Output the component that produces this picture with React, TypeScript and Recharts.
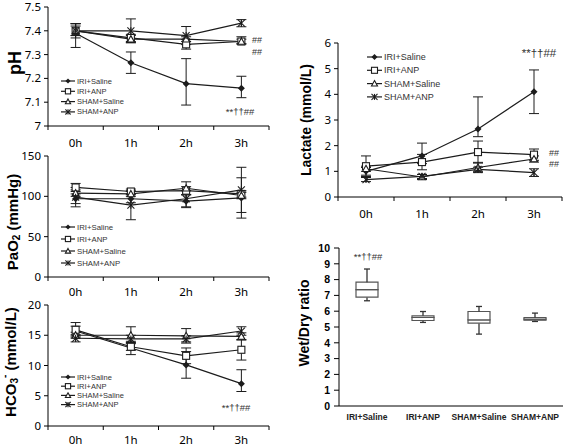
import React from "react";
import { Bar, BarChart, ErrorBar, Line, LineChart, XAxis, YAxis } from "recharts";

document.body.style.margin = "0";

const times = ["0h", "1h", "2h", "3h"];
const groups = ["IRI+Saline", "IRI+ANP", "SHAM+Saline", "SHAM+ANP"];

type Err = [number, number];

// pH
const phIriSaline = [7.39, 7.266, 7.178, 7.159];
const phIriAnp = [7.4, 7.37, 7.343, 7.355];
const phShamSaline = [7.4, 7.365, 7.365, 7.355];
const phShamAnp = [7.4, 7.4, 7.38, 7.432];
const phIriSalineErr: Err[] = [[0.06, 0.04], [0.045, 0.045], [0.09, 0.105], [0.04, 0.05]];
const phIriAnpErr: Err[] = [[0.03, 0.03], [0.015, 0.015], [0.02, 0.02], [0.01, 0.02]];
const phShamSalineErr: Err[] = [[0.02, 0.02], [0.015, 0.015], [0.01, 0.01], [0.01, 0.01]];
const phShamAnpErr: Err[] = [[0.02, 0.03], [0.05, 0.05], [0.038, 0.038], [0.015, 0.015]];
const phTicks = [7, 7.1, 7.2, 7.3, 7.4, 7.5];

// PaO2
const paIriSaline = [97, 97, 94, 98];
const paIriAnp = [111, 106, 107, 103];
const paShamSaline = [104, 103, 110, 101];
const paShamAnp = [99, 89, 97, 108];
const paIriSalineErr: Err[] = [[6, 6], [5, 5], [8, 8], [25, 25]];
const paIriAnpErr: Err[] = [[5, 5], [3, 3], [5, 5], [4, 4]];
const paShamSalineErr: Err[] = [[4, 4], [3, 3], [8, 8], [4, 4]];
const paShamAnpErr: Err[] = [[12, 12], [18, 18], [10, 10], [28, 28]];
const paTicks = [0, 50, 100, 150];

// HCO3-
const hcIriSaline = [15.7, 12.9, 10.1, 7.0];
const hcIriAnp = [15.9, 13.1, 11.6, 12.6];
const hcShamSaline = [15.0, 15.0, 14.9, 14.8];
const hcShamAnp = [14.5, 14.4, 14.4, 15.7];
const hcIriSalineErr: Err[] = [[0.8, 0.8], [1.1, 1.1], [2.2, 2.2], [1.3, 2.3]];
const hcIriAnpErr: Err[] = [[1.2, 1.2], [0.6, 0.6], [1.3, 1.3], [1.7, 1.7]];
const hcShamSalineErr: Err[] = [[0.5, 0.5], [1.4, 1.4], [1.2, 1.2], [0.6, 0.6]];
const hcShamAnpErr: Err[] = [[0.6, 0.6], [0.6, 0.6], [0.5, 0.5], [0.7, 0.7]];
const hcTicks = [0, 5, 10, 15, 20];

// Lactate
const laIriSaline = [1.0, 1.6, 2.65, 4.1];
const laIriAnp = [1.2, 1.36, 1.75, 1.65];
const laShamSaline = [1.1, 0.78, 1.15, 1.48];
const laShamAnp = [0.68, 0.8, 1.08, 0.95];
const laIriSalineErr: Err[] = [[0.15, 0.15], [0.3, 0.5], [0.3, 1.25], [0.85, 0.85]];
const laIriAnpErr: Err[] = [[0.4, 0.4], [0.3, 0.3], [0.43, 0.43], [0.22, 0.22]];
const laShamSalineErr: Err[] = [[0.1, 0.1], [0.1, 0.1], [0.2, 0.2], [0.12, 0.12]];
const laShamAnpErr: Err[] = [[0.08, 0.08], [0.08, 0.08], [0.08, 0.08], [0.15, 0.15]];
const laTicks = [0, 1, 2, 3, 4, 5, 6];

// Wet/Dry box plot
const boxMin = [6.66, 5.29, 4.55, 5.35];
const boxQ1 = [6.89, 5.41, 5.24, 5.43];
const boxMed = [7.36, 5.6, 5.45, 5.5];
const boxQ3 = [7.84, 5.71, 5.98, 5.6];
const boxMax = [8.67, 5.98, 6.3, 5.88];
const boxTicks = [0, 1, 2, 3, 4, 5, 6, 7, 8, 9, 10];

const INK = "#1c1c1c";
const TICK_FONT = "'Noto Sans', sans-serif";
const BOLD_FONT = "'Liberation Sans', Arial, sans-serif";

// category boundaries at half steps, labels at whole steps
const xTicks = times.flatMap((_, i) => [i - 0.5, i]).concat(times.length - 0.5);

function Marker({ shape, cx, cy, s = 3.5 }: { shape: number; cx?: number; cy?: number; s?: number }) {
  if (cx == null || cy == null) return null;
  if (shape === 0)
    return <polygon points={`${cx},${cy - s} ${cx + s},${cy} ${cx},${cy + s} ${cx - s},${cy}`} fill={INK} />;
  if (shape === 1)
    return <rect x={cx - s} y={cy - s} width={2 * s} height={2 * s} fill="#fff" stroke={INK} strokeWidth={1.1} />;
  if (shape === 2)
    return (
      <polygon
        points={`${cx},${cy - s} ${cx + s},${cy + s * 0.8} ${cx - s},${cy + s * 0.8}`}
        fill="#fff"
        stroke={INK}
        strokeWidth={1.1}
      />
    );
  return (
    <g stroke={INK} strokeWidth={1.1}>
      <line x1={cx - s} y1={cy - s} x2={cx + s} y2={cy + s} />
      <line x1={cx - s} y1={cy + s} x2={cx + s} y2={cy - s} />
      <line x1={cx} y1={cy - s} x2={cx} y2={cy + s} />
    </g>
  );
}

function timeTick(labelGap: number) {
  return (p: any) => {
    const v = p.payload?.value;
    if (Number.isInteger(v)) {
      return (
        <text x={p.x} y={p.y + labelGap} textAnchor="middle" dominantBaseline="central" fontSize={11.5} fontFamily={TICK_FONT} fill="#000">
          {times[v]}
        </text>
      );
    }
    return <line x1={p.x} x2={p.x} y1={p.y} y2={p.y + 4} stroke="#000" />;
  };
}

interface PanelProps {
  left: number;
  top: number;
  width: number;
  height: number;
  marginTop: number;
  marginRight: number;
  yWidth: number;
  xHeight: number;
  labelGap: number;
  domain: [number, number];
  ticks: number[];
  series: number[][];
  errors: Err[][];
}

function TimePanel(props: PanelProps) {
  const { left, top, width, height, marginTop, marginRight, yWidth, xHeight, labelGap, domain, ticks, series, errors } = props;
  const rows = times.map((_, i) => {
    const row: Record<string, any> = { t: i };
    series.forEach((s, k) => {
      row[`v${k}`] = s[i];
      row[`e${k}`] = errors[k][i];
    });
    return row;
  });
  return (
    <div style={{ position: "absolute", left, top }}>
      <LineChart width={width} height={height} data={rows} margin={{ top: marginTop, right: marginRight, left: 0, bottom: 0 }}>
        <XAxis
          type="number"
          dataKey="t"
          domain={[-0.5, times.length - 0.5]}
          ticks={xTicks}
          interval={0}
          tickLine={false}
          tickSize={0}
          tickMargin={0}
          height={xHeight}
          axisLine={{ stroke: "#000" }}
          tick={timeTick(labelGap)}
        />
        <YAxis
          type="number"
          domain={domain}
          ticks={ticks}
          interval={0}
          allowDataOverflow
          width={yWidth}
          tickSize={4}
          tickMargin={3}
          axisLine={{ stroke: "#000" }}
          tickLine={{ stroke: "#000" }}
          tick={{ fontSize: 11.5, fontFamily: TICK_FONT, fill: "#000" }}
        />
        {series.map((_, k) => (
          <Line
            key={k}
            dataKey={`v${k}`}
            stroke={INK}
            strokeWidth={1.2}
            isAnimationActive={false}
            activeDot={false}
            dot={(d: any) => <Marker key={`m${k}-${d.index}`} shape={k} cx={d.cx} cy={d.cy} />}
          >
            <ErrorBar dataKey={`e${k}`} direction="y" width={5} stroke={INK} strokeWidth={1} />
          </Line>
        ))}
      </LineChart>
    </div>
  );
}

function WhiskerLow(p: any) {
  const cx = p.x + p.width / 2;
  return (
    <g stroke="#333" strokeWidth={1.3}>
      <line x1={cx} x2={cx} y1={p.y} y2={p.y + p.height} />
      <line x1={cx - 3} x2={cx + 3} y1={p.y + p.height} y2={p.y + p.height} />
    </g>
  );
}

function WhiskerHigh(p: any) {
  const cx = p.x + p.width / 2;
  return (
    <g stroke="#333" strokeWidth={1.3}>
      <line x1={cx} x2={cx} y1={p.y} y2={p.y + p.height} />
      <line x1={cx - 3} x2={cx + 3} y1={p.y} y2={p.y} />
    </g>
  );
}

function BoxPanel() {
  const rows = groups.map((g, i) => ({
    name: g,
    base: boxMin[i],
    lowW: boxQ1[i] - boxMin[i],
    lowBox: boxMed[i] - boxQ1[i],
    highBox: boxQ3[i] - boxMed[i],
    highW: boxMax[i] - boxQ3[i],
  }));
  return (
    <div style={{ position: "absolute", left: 280, top: 240 }}>
      <BarChart width={287} height={190} data={rows} margin={{ top: 8, right: 4, left: 0, bottom: 0 }} barSize={22}>
        <XAxis
          dataKey="name"
          interval={0}
          tickLine={false}
          height={24}
          axisLine={{ stroke: "#000" }}
          tick={{ fontSize: 8.5, fontWeight: "bold", fontFamily: BOLD_FONT, fill: "#222" }}
        />
        <YAxis
          type="number"
          domain={[0, 10]}
          ticks={boxTicks}
          interval={0}
          width={59}
          tickSize={5}
          tickMargin={4}
          axisLine={{ stroke: "#000" }}
          tickLine={{ stroke: "#000" }}
          tick={{ fontSize: 10.5, fontWeight: "bold", fontFamily: BOLD_FONT, fill: "#000" }}
        />
        <Bar dataKey="base" stackId="b" fill="none" isAnimationActive={false} />
        <Bar dataKey="lowW" stackId="b" shape={WhiskerLow} isAnimationActive={false} />
        <Bar dataKey="lowBox" stackId="b" fill="#fff" stroke="#555" strokeWidth={1.2} isAnimationActive={false} />
        <Bar dataKey="highBox" stackId="b" fill="#fff" stroke="#555" strokeWidth={1.2} isAnimationActive={false} />
        <Bar dataKey="highW" stackId="b" shape={WhiskerHigh} isAnimationActive={false} />
      </BarChart>
    </div>
  );
}

function LegendBox({ x1, x2, y0, step, fontSize, s }: { x1: number; x2: number; y0: number; step: number; fontSize: number; s: number }) {
  return (
    <g>
      {groups.map((g, i) => {
        const y = y0 + i * step;
        return (
          <g key={g}>
            <line x1={x1} x2={x2} y1={y} y2={y} stroke={INK} strokeWidth={1.2} />
            <Marker shape={i} cx={(x1 + x2) / 2} cy={y} s={s} />
            <text x={x2 + 2} y={y} dominantBaseline="central" fontSize={fontSize} fontFamily={BOLD_FONT} fill="#333">
              {g}
            </text>
          </g>
        );
      })}
    </g>
  );
}

function Note({ x, y, text, size = 9.5 }: { x: number; y: number; text: string; size?: number }) {
  return (
    <text x={x} y={y} textAnchor="middle" dominantBaseline="central" fontSize={size} fontFamily={BOLD_FONT} fill="#333">
      {text}
    </text>
  );
}

function Title({ x, y, size, children }: { x: number; y: number; size: number; children: React.ReactNode }) {
  return (
    <text
      x={x}
      y={y}
      transform={`rotate(-90 ${x} ${y})`}
      textAnchor="middle"
      dominantBaseline="central"
      fontSize={size}
      fontWeight="bold"
      fontFamily={BOLD_FONT}
      fill="#000"
    >
      {children}
    </text>
  );
}

export default function App() {
  return (
    <div style={{ position: "relative", width: 567, height: 446, overflow: "hidden", background: "#fff" }}>
      <TimePanel
        left={0}
        top={0}
        width={280}
        height={150}
        marginTop={7}
        marginRight={11}
        yWidth={48}
        xHeight={24}
        labelGap={16}
        domain={[7, 7.5]}
        ticks={phTicks}
        series={[phIriSaline, phIriAnp, phShamSaline, phShamAnp]}
        errors={[phIriSalineErr, phIriAnpErr, phShamSalineErr, phShamAnpErr]}
      />
      <TimePanel
        left={0}
        top={144}
        width={280}
        height={156}
        marginTop={12}
        marginRight={11}
        yWidth={48}
        xHeight={23}
        labelGap={14}
        domain={[0, 150]}
        ticks={paTicks}
        series={[paIriSaline, paIriAnp, paShamSaline, paShamAnp]}
        errors={[paIriSalineErr, paIriAnpErr, paShamSalineErr, paShamAnpErr]}
      />
      <TimePanel
        left={0}
        top={293}
        width={280}
        height={153}
        marginTop={12}
        marginRight={11}
        yWidth={48}
        xHeight={20}
        labelGap={13}
        domain={[0, 20]}
        ticks={hcTicks}
        series={[hcIriSaline, hcIriAnp, hcShamSaline, hcShamAnp]}
        errors={[hcIriSalineErr, hcIriAnpErr, hcShamSalineErr, hcShamAnpErr]}
      />
      <TimePanel
        left={280}
        top={20}
        width={287}
        height={200}
        marginTop={23}
        marginRight={5}
        yWidth={58}
        xHeight={23}
        labelGap={16}
        domain={[0, 6]}
        ticks={laTicks}
        series={[laIriSaline, laIriAnp, laShamSaline, laShamAnp]}
        errors={[laIriSalineErr, laIriAnpErr, laShamSalineErr, laShamAnpErr]}
      />
      <BoxPanel />
      <svg width={567} height={446} style={{ position: "absolute", left: 0, top: 0, pointerEvents: "none" }}>
        <Title x={15} y={63} size={18}>pH</Title>
        <Title x={12} y={222} size={15}>
          PaO<tspan dy={4} fontSize={10}>2</tspan>
          <tspan dy={-4}> (mmHg)</tspan>
        </Title>
        <Title x={10} y={362} size={15}>
          HCO<tspan dy={4} fontSize={10}>3</tspan>
          <tspan dy={-10} fontSize={10}>-</tspan>
          <tspan dy={6}> (mmol/L)</tspan>
        </Title>
        <Title x={306} y={120} size={14}>Lactate (mmol/L)</Title>
        <Title x={304} y={323} size={14}>Wet/Dry ratio</Title>

        <LegendBox x1={61} x2={75} y0={81} step={10.3} fontSize={7.5} s={2.6} />
        <LegendBox x1={61} x2={75} y0={227} step={12} fontSize={7.8} s={2.6} />
        <LegendBox x1={61} x2={75} y0={377} step={9.2} fontSize={7.5} s={2.6} />
        <LegendBox x1={367} x2={382} y0={57} step={13.3} fontSize={9} s={3} />

        <Note x={257} y={40} text="##" size={9} />
        <Note x={257} y={52} text="##" size={9} />
        <Note x={240} y={111} text="**††##" />
        <Note x={236} y={407} text="**††##" />
        <Note x={539} y={53} text="**††##" size={11.5} />
        <Note x={554} y={153} text="##" size={9} />
        <Note x={554} y={164} text="##" size={9} />
        <Note x={368} y={256} text="**††##" />
      </svg>
    </div>
  );
}
